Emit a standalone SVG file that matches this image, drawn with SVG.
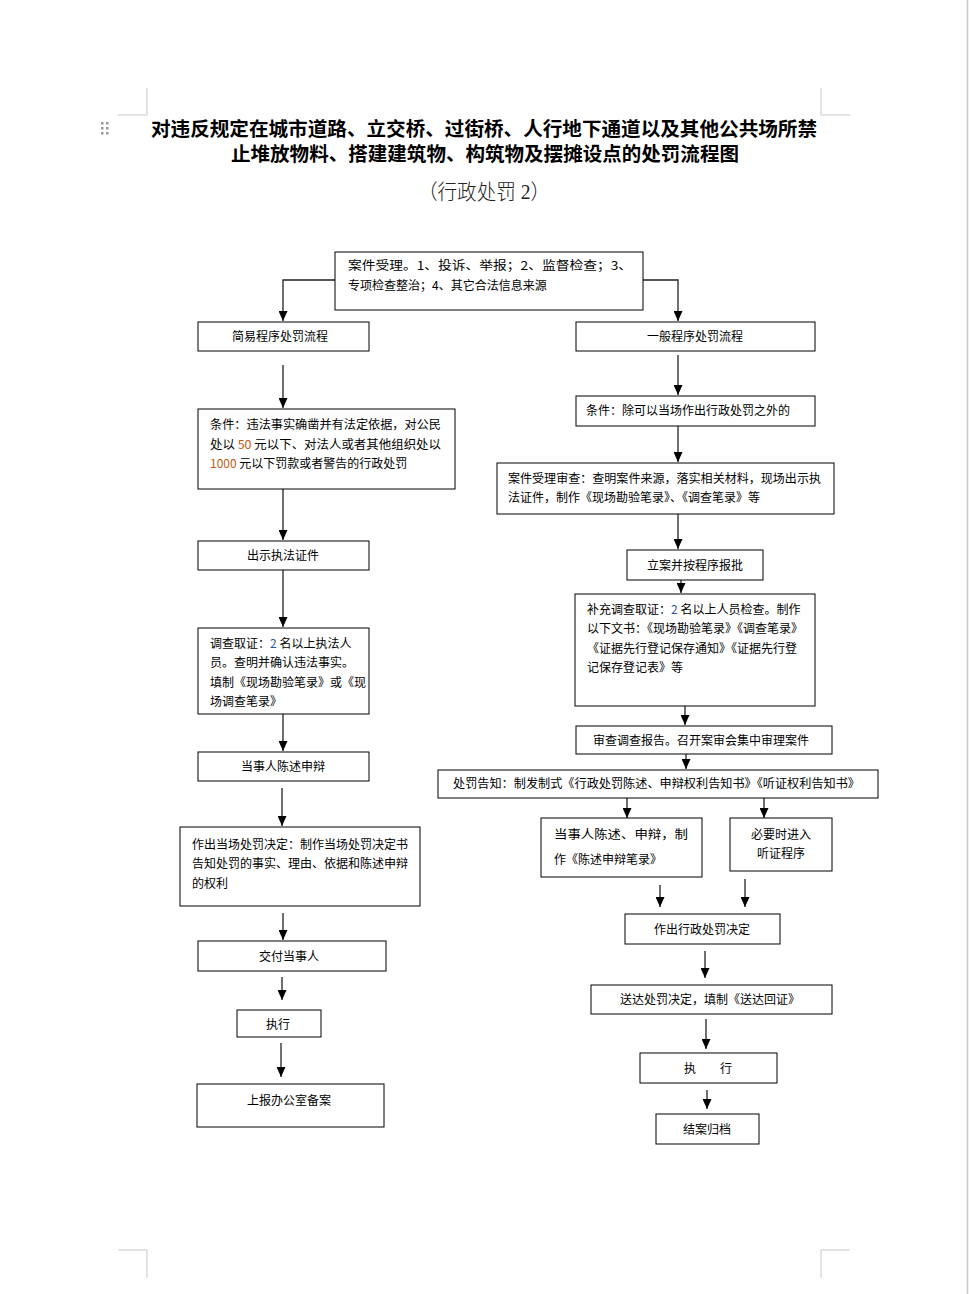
<svg xmlns="http://www.w3.org/2000/svg" width="969" height="1294" viewBox="0 0 969 1294">
<defs>
<marker id="ah" markerWidth="10" markerHeight="9" refX="10" refY="4.5" orient="auto" markerUnits="userSpaceOnUse" viewBox="0 0 10 9">
<path d="M0,0 L10,4.5 L0,9 Z" fill="#000"/>
</marker>
</defs>
<style>
.bx{fill:#fff;stroke:#000;stroke-width:1}
.t{font-family:"Noto Sans CJK SC","Liberation Sans",sans-serif;font-size:12px;fill:#000}
.tc{text-anchor:middle}
.ca{fill:none;stroke:#222;stroke-width:1.3;marker-end:url(#ah)}
.pg{fill:none;stroke:#c8c8c8;stroke-width:1}
.title{font-family:"Liberation Serif","Noto Sans CJK SC",serif;font-weight:bold;font-size:19.5px;fill:#000;text-anchor:middle}
.or{fill:#c55a11}
.bl{fill:#2f5597}
</style>
<rect width="969" height="1294" fill="#fff"/>
<g id="page-marks">
<path class="pg" d="M147,88 V115 H118"/>
<path class="pg" d="M821,88 V115 H850"/>
<path class="pg" d="M118,1250 H147 V1278"/>
<path class="pg" d="M850,1250 H821 V1278"/>
<line x1="967.5" y1="0" x2="967.5" y2="1294" stroke="#c8c8c8" stroke-width="1.5"/>
<g fill="#999">
<rect x="101" y="122" width="2.5" height="2.5"/><rect x="106" y="122" width="2.5" height="2.5"/>
<rect x="101" y="127" width="2.5" height="2.5"/><rect x="106" y="127" width="2.5" height="2.5"/>
<rect x="101" y="132" width="2.5" height="2.5"/><rect x="106" y="132" width="2.5" height="2.5"/>
</g>
</g>
<g id="title">
<text class="title" x="484" y="136" textLength="666" lengthAdjust="spacingAndGlyphs">对违反规定在城市道路、立交桥、过街桥、人行地下通道以及其他公共场所禁</text>
<text class="title" x="485" y="161" textLength="508" lengthAdjust="spacingAndGlyphs">止堆放物料、搭建建筑物、构筑物及摆摊设点的处罚流程图</text>
<text x="484" y="199" font-family="Liberation Serif,Noto Sans CJK SC,serif" font-weight="300" font-size="21" text-anchor="middle" fill="#222" textLength="132" lengthAdjust="spacingAndGlyphs">（行政处罚 2）</text>
</g>
<g id="connectors">
<path class="ca" d="M335,280 H283 V321"/>
<path class="ca" d="M643,280 H678 V321"/>
<line class="ca" x1="283" y1="365" x2="283" y2="408"/>
<line class="ca" x1="283" y1="489" x2="283" y2="540"/>
<line class="ca" x1="283" y1="570" x2="283" y2="627"/>
<line class="ca" x1="283" y1="714" x2="283" y2="751"/>
<line class="ca" x1="282" y1="788" x2="282" y2="826"/>
<line class="ca" x1="283" y1="913" x2="283" y2="940"/>
<line class="ca" x1="282" y1="977" x2="282" y2="1000"/>
<line class="ca" x1="281" y1="1043" x2="281" y2="1077"/>
<line class="ca" x1="678" y1="355" x2="678" y2="395"/>
<line class="ca" x1="678" y1="426" x2="678" y2="462"/>
<line class="ca" x1="678" y1="514" x2="678" y2="549"/>
<line class="ca" x1="681" y1="580" x2="681" y2="593"/>
<line class="ca" x1="685" y1="706" x2="685" y2="725"/>
<line class="ca" x1="686" y1="754" x2="686" y2="769"/>
<line class="ca" x1="627" y1="798" x2="627" y2="818"/>
<line class="ca" x1="764" y1="798" x2="764" y2="818"/>
<line class="ca" x1="660" y1="885" x2="660" y2="907"/>
<line class="ca" x1="745" y1="879" x2="745" y2="907"/>
<line class="ca" x1="705" y1="951" x2="705" y2="978"/>
<line class="ca" x1="706" y1="1019" x2="706" y2="1049"/>
<line class="ca" x1="707" y1="1090" x2="707" y2="1109"/>
</g>
<g id="n-start">
<rect class="bx" x="335" y="252" width="308" height="58"/>
<text class="t" x="348" y="270" font-size="14.5" textLength="284" lengthAdjust="spacingAndGlyphs">案件受理。1、投诉、举报；2、监督检查；3、</text>
<text class="t" x="348" y="290" font-size="14.5">专项检查整治；4、其它合法信息来源</text>
</g>
<g id="n-simple">
<rect class="bx" x="198" y="322" width="171" height="29"/>
<text class="t tc" x="280" y="341">简易程序处罚流程</text>
</g>
<g id="n-cond1">
<rect class="bx" x="198" y="409" width="257" height="80"/>
<text class="t" x="210" y="429" textLength="231" lengthAdjust="spacingAndGlyphs">条件：违法事实确凿并有法定依据，对公民</text>
<text class="t" x="210" y="449" textLength="231" lengthAdjust="spacingAndGlyphs">处以 <tspan class="or">50</tspan> 元以下、对法人或者其他组织处以</text>
<text class="t" x="210" y="468"><tspan class="or">1000</tspan> 元以下罚款或者警告的行政处罚</text>
</g>
<g id="n-show">
<rect class="bx" x="198" y="541" width="171" height="29"/>
<text class="t tc" x="283" y="560">出示执法证件</text>
</g>
<g id="n-invest1">
<rect class="bx" x="198" y="628" width="171" height="86"/>
<text class="t" x="210" y="648">调查取证：<tspan class="bl">2</tspan> 名以上执法人</text>
<text class="t" x="210" y="667">员。查明并确认违法事实。</text>
<text class="t" x="210" y="687">填制《现场勘验笔录》或《现</text>
<text class="t" x="210" y="706">场调查笔录》</text>
</g>
<g id="n-state1">
<rect class="bx" x="198" y="752" width="171" height="29"/>
<text class="t tc" x="283" y="771">当事人陈述申辩</text>
</g>
<g id="n-decide1">
<rect class="bx" x="180" y="827" width="240" height="79"/>
<text class="t" x="192" y="849">作出当场处罚决定：制作当场处罚决定书</text>
<text class="t" x="192" y="868">告知处罚的事实、理由、依据和陈述申辩</text>
<text class="t" x="192" y="888">的权利</text>
</g>
<g id="n-deliver1">
<rect class="bx" x="198" y="941" width="188" height="30"/>
<text class="t tc" x="289" y="961">交付当事人</text>
</g>
<g id="n-exec1">
<rect class="bx" x="237" y="1010" width="84" height="27"/>
<text class="t tc" x="278" y="1029">执行</text>
</g>
<g id="n-report">
<rect class="bx" x="197" y="1084" width="187" height="43"/>
<text class="t tc" x="289" y="1105">上报办公室备案</text>
</g>
<g id="n-general">
<rect class="bx" x="576" y="322" width="239" height="29"/>
<text class="t tc" x="695" y="341">一般程序处罚流程</text>
</g>
<g id="n-cond2">
<rect class="bx" x="576" y="396" width="239" height="30"/>
<text class="t" x="586" y="415">条件：除可以当场作出行政处罚之外的</text>
</g>
<g id="n-review">
<rect class="bx" x="497" y="463" width="337" height="51"/>
<text class="t" x="508" y="483" textLength="313" lengthAdjust="spacingAndGlyphs">案件受理审查：查明案件来源，落实相关材料，现场出示执</text>
<text class="t" x="508" y="502">法证件，制作《现场勘验笔录》、《调查笔录》等</text>
</g>
<g id="n-file">
<rect class="bx" x="627" y="550" width="136" height="30"/>
<text class="t tc" x="695" y="570">立案并按程序报批</text>
</g>
<g id="n-invest2">
<rect class="bx" x="575" y="594" width="240" height="112"/>
<text class="t" x="587" y="614">补充调查取证：<tspan class="bl">2</tspan> 名以上人员检查。制作</text>
<text class="t" x="587" y="633">以下文书：《现场勘验笔录》《调查笔录》</text>
<text class="t" x="587" y="653">《证据先行登记保存通知》《证据先行登</text>
<text class="t" x="587" y="672">记保存登记表》等</text>
</g>
<g id="n-audit">
<rect class="bx" x="576" y="726" width="256" height="28"/>
<text class="t" x="593" y="745">审查调查报告。召开案审会集中审理案件</text>
</g>
<g id="n-notify">
<rect class="bx" x="438" y="770" width="440" height="28"/>
<text class="t" x="453" y="788" textLength="407" lengthAdjust="spacingAndGlyphs">处罚告知：制发制式《行政处罚陈述、申辩权利告知书》《听证权利告知书》</text>
</g>
<g id="n-state2">
<rect class="bx" x="541" y="818" width="161" height="59"/>
<text class="t" x="554" y="839" textLength="134" lengthAdjust="spacingAndGlyphs">当事人陈述、申辩，制</text>
<text class="t" x="554" y="864">作《陈述申辩笔录》</text>
</g>
<g id="n-hearing">
<rect class="bx" x="730" y="818" width="102" height="53"/>
<text class="t tc" x="781" y="839">必要时进入</text>
<text class="t tc" x="781" y="858">听证程序</text>
</g>
<g id="n-decide2">
<rect class="bx" x="625" y="914" width="155" height="30"/>
<text class="t tc" x="702" y="934">作出行政处罚决定</text>
</g>
<g id="n-deliver2">
<rect class="bx" x="591" y="985" width="241" height="29"/>
<text class="t tc" x="710" y="1004">送达处罚决定，填制《送达回证》</text>
</g>
<g id="n-exec2">
<rect class="bx" x="640" y="1053" width="137" height="30"/>
<text class="t tc" x="708" y="1073">执　　行</text>
</g>
<g id="n-close">
<rect class="bx" x="656" y="1114" width="103" height="30"/>
<text class="t tc" x="707" y="1134">结案归档</text>
</g>
</svg>
